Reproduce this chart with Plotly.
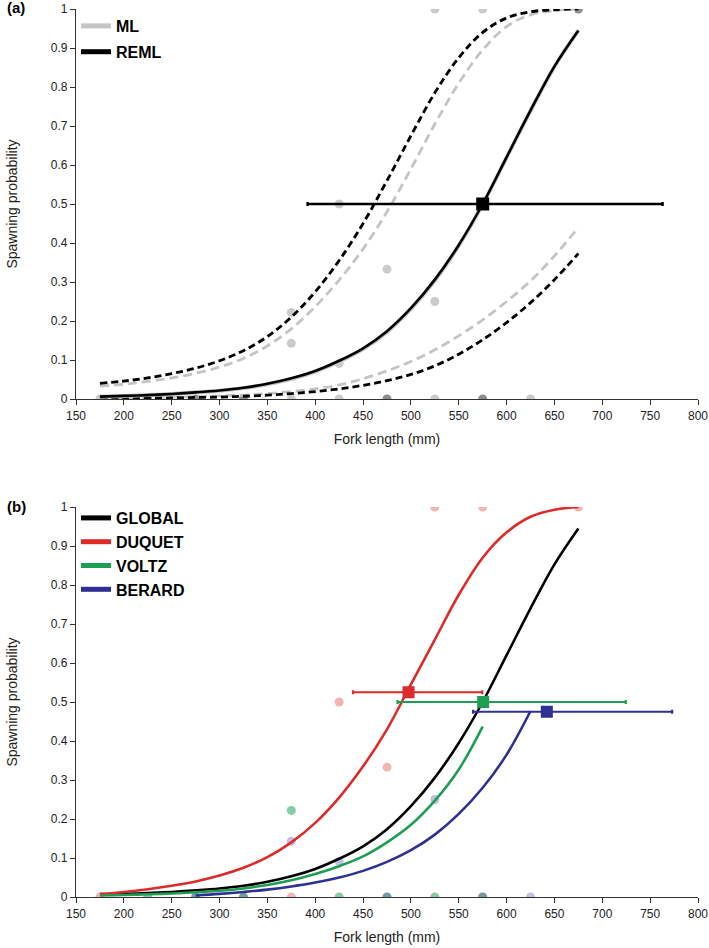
import plotly.graph_objects as go

# ---------------- data ----------------
fork_length = [175, 200, 225, 250, 275, 300, 325, 350, 375, 400, 425, 450, 475,
               500, 525, 550, 575, 600, 625, 650, 675]

# panel (a) fitted curves
reml_fit = [0.006, 0.008, 0.010, 0.013, 0.017, 0.022, 0.029, 0.039, 0.053, 0.072, 0.098,
            0.130, 0.174, 0.233, 0.306, 0.395, 0.500, 0.620, 0.740, 0.853, 0.945]
ml_fit = [0.006, 0.008, 0.010, 0.013, 0.017, 0.021, 0.028, 0.038, 0.051, 0.070, 0.096,
          0.128, 0.172, 0.231, 0.304, 0.393, 0.499, 0.619, 0.739, 0.852, 0.945]
reml_upper = [0.040, 0.046, 0.054, 0.065, 0.079, 0.098, 0.124, 0.160, 0.210, 0.275, 0.355,
              0.450, 0.560, 0.675, 0.785, 0.875, 0.940, 0.977, 0.993, 0.998, 1.000]
ml_upper = [0.033, 0.038, 0.045, 0.054, 0.066, 0.082, 0.104, 0.136, 0.180, 0.237, 0.305,
            0.385, 0.480, 0.590, 0.705, 0.810, 0.895, 0.955, 0.985, 0.996, 1.000]
reml_lower = [0.002, 0.002, 0.003, 0.003, 0.004, 0.005, 0.007, 0.010, 0.014, 0.019, 0.026,
              0.035, 0.047, 0.063, 0.085, 0.115, 0.152, 0.196, 0.247, 0.306, 0.373]
ml_lower = [0.003, 0.003, 0.004, 0.005, 0.006, 0.008, 0.010, 0.014, 0.019, 0.026, 0.036,
            0.052, 0.072, 0.096, 0.126, 0.162, 0.203, 0.250, 0.303, 0.367, 0.440]

# panel (a) observed proportions (light = single, dark = overlapping)
obs_a_light_x = [175, 375, 375, 375, 425, 425, 425, 475, 525, 525, 525, 575, 625]
obs_a_light_y = [0, 0, 0.143, 0.222, 0, 0.091, 0.5, 0.333, 0, 0.25, 1, 1, 0]
obs_a_dark_x = [225, 275, 325, 475, 575, 675]
obs_a_dark_y = [0, 0, 0, 0, 0, 1]

# panel (a) L50 with CI
l50_a = [575]
l50_a_p = [0.5]
l50_a_lo = [392]
l50_a_hi = [763]

# panel (b) site curves
global_fit = reml_fit
duquet_fit = [0.008, 0.013, 0.020, 0.029, 0.040, 0.055, 0.075, 0.102, 0.140, 0.190, 0.255,
              0.335, 0.430, 0.545, 0.660, 0.775, 0.870, 0.935, 0.975, 0.993, 1.000]
voltz_x = [175, 200, 225, 250, 275, 300, 325, 350, 375, 400, 425, 450, 475, 500, 525, 550, 575]
voltz_fit = [0.004, 0.005, 0.007, 0.009, 0.012, 0.016, 0.022, 0.031, 0.043, 0.059, 0.079,
             0.104, 0.140, 0.185, 0.247, 0.327, 0.437]
berard_x = [275, 300, 325, 350, 375, 400, 425, 450, 475, 500, 525, 550, 575, 600, 625]
berard_fit = [0.004, 0.008, 0.013, 0.019, 0.027, 0.037, 0.050, 0.067, 0.090, 0.120, 0.160,
              0.213, 0.280, 0.365, 0.477]

# panel (b) observed proportions by site
duquet_obs_x = [175, 375, 425, 475, 525, 575, 675]
duquet_obs_y = [0, 0, 0.5, 0.333, 1, 1, 1]
voltz_obs_x = [225, 275, 325, 375, 425, 475, 525, 575]
voltz_obs_y = [0, 0, 0, 0.222, 0, 0, 0, 0]
berard_obs_x = [275, 325, 375, 425, 475, 525, 575, 625]
berard_obs_y = [0, 0, 0.143, 0.091, 0, 0.25, 0, 0]

# panel (b) L50 with CI
sites = ["DUQUET", "VOLTZ", "BERARD"]
l50_b = [497.5, 575.5, 642]
l50_b_p = [0.525, 0.5, 0.475]
l50_b_lo = [439.5, 486, 565]
l50_b_hi = [574.5, 724.5, 773]

x_ticks = list(range(150, 801, 50))

# ---------------- styles ----------------
RED = "#DF2A2A"
GREEN = "#1E9E52"
BLUE = "#2E3192"
GREY = "#C4C4C4"
FONT = "Liberation Sans, Arial, sans-serif"
AXC = "#333333"

fig = go.Figure()

# ---- panel (a) ----
fig.add_trace(go.Scatter(x=obs_a_light_x, y=obs_a_light_y, mode="markers",
                         marker=dict(size=9, color="#CBCBCB"), showlegend=False,
                         xaxis="x", yaxis="y", hoverinfo="skip"))
fig.add_trace(go.Scatter(x=obs_a_dark_x, y=obs_a_dark_y, mode="markers",
                         marker=dict(size=9, color="#8E8E8E"), showlegend=False,
                         xaxis="x", yaxis="y", hoverinfo="skip"))
for arr in (ml_upper, ml_lower):
    fig.add_trace(go.Scatter(x=fork_length, y=arr, mode="lines", line_shape="spline",
                             line=dict(color=GREY, width=2.8, dash="9px,5px"),
                             showlegend=False, xaxis="x", yaxis="y"))
for arr in (reml_upper, reml_lower):
    fig.add_trace(go.Scatter(x=fork_length, y=arr, mode="lines", line_shape="spline",
                             line=dict(color="black", width=2.8, dash="7px,4px"),
                             showlegend=False, xaxis="x", yaxis="y"))
fig.add_trace(go.Scatter(x=fork_length, y=ml_fit, mode="lines", line_shape="spline",
                         line=dict(color=GREY, width=4), name="ML", legend="legend",
                         legendgroup="ml", xaxis="x", yaxis="y"))
fig.add_trace(go.Scatter(x=fork_length, y=reml_fit, mode="lines", line_shape="spline",
                         line=dict(color="black", width=2.6), name="REML", legend="legend",
                         legendgroup="reml", xaxis="x", yaxis="y"))
fig.add_trace(go.Scatter(
    x=l50_a, y=l50_a_p, mode="markers",
    marker=dict(symbol="square", size=13, color="black"),
    error_x=dict(type="data", symmetric=False,
                 array=[h - c for h, c in zip(l50_a_hi, l50_a)],
                 arrayminus=[c - l for c, l in zip(l50_a, l50_a_lo)],
                 color="black", thickness=2.4, width=2),
    showlegend=False, xaxis="x", yaxis="y"))

# ---- panel (b) ----
fig.add_trace(go.Scatter(x=duquet_obs_x, y=duquet_obs_y, mode="markers",
                         marker=dict(size=9, color="rgba(225,40,40,0.35)"),
                         showlegend=False, xaxis="x2", yaxis="y2", hoverinfo="skip"))
fig.add_trace(go.Scatter(x=voltz_obs_x, y=voltz_obs_y, mode="markers",
                         marker=dict(size=9, color="rgba(20,150,80,0.5)"),
                         showlegend=False, xaxis="x2", yaxis="y2", hoverinfo="skip"))
fig.add_trace(go.Scatter(x=berard_obs_x, y=berard_obs_y, mode="markers",
                         marker=dict(size=9, color="rgba(60,60,170,0.32)"),
                         showlegend=False, xaxis="x2", yaxis="y2", hoverinfo="skip"))

fig.add_trace(go.Scatter(x=fork_length, y=global_fit, mode="lines", line_shape="spline",
                         line=dict(color="black", width=2.6), name="GLOBAL", legend="legend2",
                         legendgroup="g", xaxis="x2", yaxis="y2"))
fig.add_trace(go.Scatter(x=fork_length, y=duquet_fit, mode="lines", line_shape="spline",
                         line=dict(color=RED, width=2.6), name="DUQUET", legend="legend2",
                         legendgroup="d", xaxis="x2", yaxis="y2"))
fig.add_trace(go.Scatter(x=voltz_x, y=voltz_fit, mode="lines", line_shape="spline",
                         line=dict(color=GREEN, width=2.6), name="VOLTZ", legend="legend2",
                         legendgroup="v", xaxis="x2", yaxis="y2"))
fig.add_trace(go.Scatter(x=berard_x, y=berard_fit, mode="lines", line_shape="spline",
                         line=dict(color=BLUE, width=2.6), name="BERARD", legend="legend2",
                         legendgroup="b", xaxis="x2", yaxis="y2"))

for i, col in enumerate([RED, GREEN, BLUE]):
    fig.add_trace(go.Scatter(
        x=[l50_b[i]], y=[l50_b_p[i]], mode="markers",
        marker=dict(symbol="square", size=12, color=col),
        error_x=dict(type="data", symmetric=False,
                     array=[l50_b_hi[i] - l50_b[i]], arrayminus=[l50_b[i] - l50_b_lo[i]],
                     color=col, thickness=2.2, width=2),
        showlegend=False, name=sites[i], xaxis="x2", yaxis="y2"))

# ---------------- layout ----------------
W, H = 709, 948
ML_, MR, MT, MB = 76, 11, 9, 51
PH = H - MT - MB
dom_a = [(H - MB - 399) / PH, 1.0]
dom_b = [0.0, (H - MB - 507) / PH]


def xax(standoff):
    return dict(range=[150, 800], tickmode="array", tickvals=x_ticks,
                showline=True, linecolor=AXC, linewidth=1.3, ticks="outside",
                ticklen=5, tickcolor=AXC, tickwidth=1.2, showgrid=False, zeroline=False,
                tickfont=dict(family=FONT, size=12, color="#222"),
                title=dict(text="Fork length (mm)",
                           font=dict(family=FONT, size=14, color="#222"), standoff=standoff),
                automargin=False, fixedrange=True)


ycommon = dict(range=[0, 1], dtick=0.1, tick0=0, showline=True, linecolor=AXC, linewidth=1.3,
               ticks="outside", ticklen=5, tickcolor=AXC, tickwidth=1.2, showgrid=False,
               zeroline=False, tickfont=dict(family=FONT, size=12, color="#222"),
               title=dict(text="Spawning probability",
                          font=dict(family=FONT, size=14, color="#222"), standoff=29),
               automargin=False, fixedrange=True)

legend_common = dict(font=dict(family=FONT, size=16, color="black", weight="bold"),
                     bgcolor="rgba(0,0,0,0)", borderwidth=0, xanchor="left", yanchor="top",
                     traceorder="grouped", itemwidth=30, itemsizing="constant")

fig.update_layout(
    width=W, height=H,
    margin=dict(l=ML_, r=MR, t=MT, b=MB),
    paper_bgcolor="white", plot_bgcolor="white",
    xaxis=dict(anchor="y", domain=[0, 1], **xax(12)),
    yaxis=dict(anchor="x", domain=dom_a, **ycommon),
    xaxis2=dict(anchor="y2", domain=[0, 1], **xax(12)),
    yaxis2=dict(anchor="x2", domain=dom_b, **ycommon),
    legend=dict(x=0.0, y=1.0, tracegroupgap=2, **legend_common),
    legend2=dict(x=0.0, y=dom_b[1] + 6 / PH, tracegroupgap=0, **legend_common),
    annotations=[
        dict(text="<b>(a)</b>", xref="paper", yref="paper", x=(5 - ML_) / (W - ML_ - MR),
             y=(H - MB - 8) / PH, xanchor="left", yanchor="middle", showarrow=False,
             font=dict(family=FONT, size=15, color="black")),
        dict(text="<b>(b)</b>", xref="paper", yref="paper", x=(5 - ML_) / (W - ML_ - MR),
             y=(H - MB - 507) / PH, xanchor="left", yanchor="middle", showarrow=False,
             font=dict(family=FONT, size=15, color="black")),
    ],
    showlegend=True,
)

fig.write_html("out.html")
